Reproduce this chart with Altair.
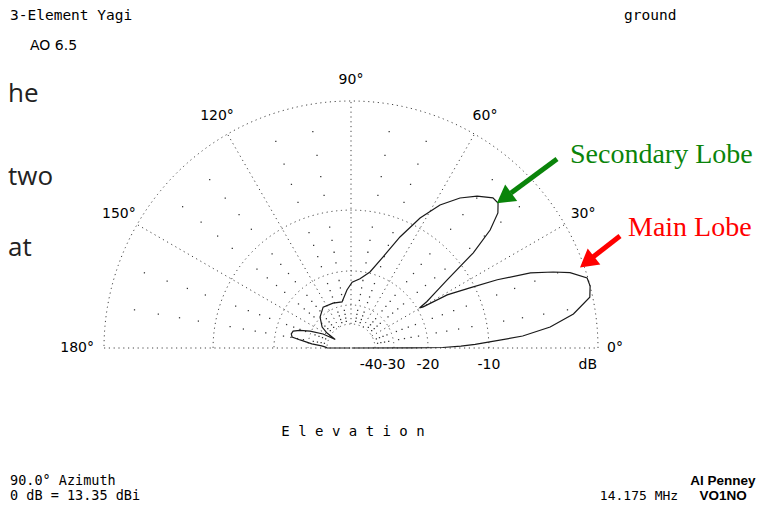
import altair as alt
import numpy as np
import pandas as pd

# ---------------- data ----------------
# elevation pattern: elevation angle (deg) and relative gain (dB)
elev_deg = [0, 0.05, 0.3, 1.0, 1.7, 2.5, 4, 6, 8.7, 12, 14.5, 16.5, 19, 20.6, 22.7,
            25, 26.8, 28.9, 29.7, 30.3, 31.5, 33.2, 35.3, 37.9, 40.3, 42.6, 44.6,
            46.6, 50.3, 54, 58.1, 62, 66.2, 70.6, 76, 82.6, 89, 94, 101, 111.8,
            124.3, 135, 144, 148, 151.5, 153.4, 157.5, 161, 163.7, 166.7, 169.4, 171,
            174, 176, 178, 179.7, 180]
gain_db = [-99, -24, -17, -13.9, -11.8, -9.9, -6.2, -3.6, -1.6, -0.2, 0, -0.05,
           -1.1, -2.3, -4.1, -7.3, -10.6, -13.9, -18.7, -19.5, -17.5, -15.5, -12.7,
           -8.0, -5.2, -3.66, -3.07, -3.07, -3.85, -4.92, -6.57, -8.89, -12.2,
           -16.1, -19.7, -21.7, -22.7, -24.8, -28.5, -28.0, -27.6, -29.7, -33.2,
           -37.2, -45, -35.5, -29.5, -26.0, -24.2, -23.9, -24.3, -26.9,
           -31.5, -36.5, -39, -40, -99]

ring_db = [0, -10, -20, -30, -40]
spoke_deg = [30, 60, 90, 120, 150]
dot_deg = [10, 20, 40, 50, 70, 80, 100, 110, 130, 140, 160, 170]
dot_db = [-2, -4, -6, -8, -12, -14, -16, -18, -22, -24, -26, -28, -32, -34, -36, -38]
angle_labels = ["30°", "60°", "90°", "120°", "150°"]
scale_db = [-30, -20, -10]
scale_labels = ["-30", "-20", "-10"]

# ---------------- layout ----------------
W, H = 750, 497
CX, CY, R = 343.0, 340.0, 247.0
K = 0.89  # ARRL log scale: factor 0.89 per 2 dB

def rad(db):
    return R * K ** (-np.asarray(db, dtype=float) / 2.0)

def px(a, r):
    return CX + r * np.cos(np.radians(a))

def py(a, r):
    return CY - r * np.sin(np.radians(a))

X = alt.X("x:Q", scale=alt.Scale(domain=[0, W], nice=False, zero=False), axis=None)
Y = alt.Y("y:Q", scale=alt.Scale(domain=[0, H], nice=False, zero=False, reverse=True), axis=None)

GRID = "#444444"
DASH = [1.2, 3.6]

# rings
rows = []
for d in ring_db:
    r = float(rad(d))
    for i, a in enumerate(np.linspace(0, 180, 361)):
        rows.append({"ring": str(d), "i": i, "x": px(a, r), "y": py(a, r)})
rings = alt.Chart(pd.DataFrame(rows)).mark_line(
    color=GRID, strokeWidth=1, strokeDash=DASH
).encode(x=X, y=Y, detail="ring:N", order="i:Q")

# spokes
sp = pd.DataFrame({
    "x": [px(a, rad(-40)) for a in spoke_deg],
    "y": [py(a, rad(-40)) for a in spoke_deg],
    "x2": [px(a, R) for a in spoke_deg],
    "y2": [py(a, R) for a in spoke_deg],
})
spokes = alt.Chart(sp).mark_rule(color=GRID, strokeWidth=1, strokeDash=DASH).encode(
    x=X, y=Y, x2="x2:Q", y2="y2:Q")

base = alt.Chart(pd.DataFrame({"x": [CX - R], "x2": [CX + R], "y": [CY]})).mark_rule(
    color=GRID, strokeWidth=1, strokeDash=DASH).encode(x=X, x2="x2:Q", y=Y)

# grid dots
drows = [{"x": px(a, rad(d)), "y": py(a, rad(d))} for a in dot_deg for d in dot_db]
dots = alt.Chart(pd.DataFrame(drows)).mark_square(size=1.6, color="#333333", opacity=1).encode(x=X, y=Y)

# pattern
pat = pd.DataFrame({"elev": elev_deg, "db": gain_db, "i": range(len(elev_deg))})
pattern = alt.Chart(pat).transform_calculate(
    r=f"{R} * pow({K}, -datum.db / 2)"
).transform_calculate(
    x=f"{CX} + datum.r * cos(datum.elev * PI / 180)",
    y=f"{CY} - datum.r * sin(datum.elev * PI / 180)",
).mark_line(color="#1a1a1a", strokeWidth=1.2).encode(x=X, y=Y, order="i:Q")

# ---------------- text ----------------
MONO = "DejaVu Sans Mono"
SANS = "DejaVu Sans"

def txt(items, **kw):
    df = pd.DataFrame(items, columns=["x", "y", "t"])
    kw.setdefault("baseline", "middle")
    kw.setdefault("color", "black")
    return alt.Chart(df).mark_text(**kw).encode(x=X, y=Y, text="t:N")

lr = R + 21
ang_txt = txt([(px(a, lr), py(a, lr), s) for a, s in zip(spoke_deg, angle_labels)],
              font=SANS, fontSize=14, align="center")
zero_txt = txt([(CX + R + 9, CY, "0°")], font=SANS, fontSize=14, align="left")
one80_txt = txt([(CX - R - 10, CY, "180°")], font=SANS, fontSize=14, align="right")

sc_y = CY + 17
sc_txt = txt([(CX + float(rad(d)), sc_y, s) for d, s in zip(scale_db, scale_labels)],
             font=SANS, fontSize=14, align="center")
m40_txt = txt([(CX + float(rad(-30)) - 11.5, sc_y, "-40")], font=SANS, fontSize=14, align="right")
db_txt = txt([(CX + R - 1, sc_y, "dB")], font=SANS, fontSize=14, align="right")

title_txt = txt([(2, 8, "3-Element Yagi")], font=MONO, fontSize=14.5, align="left")
ground_txt = txt([(616, 8, "ground")], font=MONO, fontSize=14.5, align="left")
ao_txt = txt([(22, 38, "AO 6.5")], font=SANS, fontSize=14, align="left")
elev_txt = txt([(345, 424, "E l e v a t i o n")], font=MONO, fontSize=14, align="center")
az_txt = txt([(2, 473, "90.0° Azimuth"), (2, 488, "0 dB = 13.35 dBi")],
             font=MONO, fontSize=13.5, align="left")
mhz_txt = txt([(631, 488, "14.175 MHz")], font=MONO, fontSize=13, align="center")
auth_txt = txt([(715, 473, "Al Penney"), (715, 488, "VO1NO")],
               font="Liberation Sans", fontSize=13.5, fontWeight="bold", align="center")

slide_txt = txt([(0, 86, "he"), (0, 169, "two"), (0, 240, "at")],
                font="Open Sans", fontSize=26, align="left", color="#222222")

sec_txt = txt([(562, 147, "Secondary Lobe")], font="Liberation Serif", fontSize=28,
              align="left", color="#0a840a")
main_txt = txt([(620, 220, "Main Lobe")], font="Liberation Serif", fontSize=28,
               align="left", color="#ff0000")

# arrows
def arrow(x1, y1, x2, y2, hx, hy, ang, color):
    shaft = alt.Chart(pd.DataFrame({"x": [x1], "y": [y1], "x2": [x2], "y2": [y2]})).mark_rule(
        color=color, strokeWidth=5).encode(x=X, y=Y, x2="x2:Q", y2="y2:Q")
    head = alt.Chart(pd.DataFrame({"x": [hx], "y": [hy]})).mark_point(
        shape="triangle-up", filled=True, size=420, color=color, opacity=1, angle=ang
    ).encode(x=X, y=Y)
    return shaft + head

green_arrow = arrow(549, 151, 503, 185, 496, 190, 234, "#0a840a")
red_arrow = arrow(612, 228, 585, 249, 579, 254, 232, "#ff0000")

chart = alt.layer(
    rings, spokes, base, dots, pattern,
    ang_txt, zero_txt, one80_txt, sc_txt, m40_txt, db_txt,
    title_txt, ground_txt, ao_txt, elev_txt, az_txt, mhz_txt, auth_txt,
    slide_txt, sec_txt, main_txt, green_arrow, red_arrow,
).properties(
    width=W, height=H, padding=0, autosize=alt.AutoSizeParams(type="none"),
    background="white",
).configure_view(stroke=None)

chart.save("out.html", embed_options={"renderer": "svg", "actions": False})
